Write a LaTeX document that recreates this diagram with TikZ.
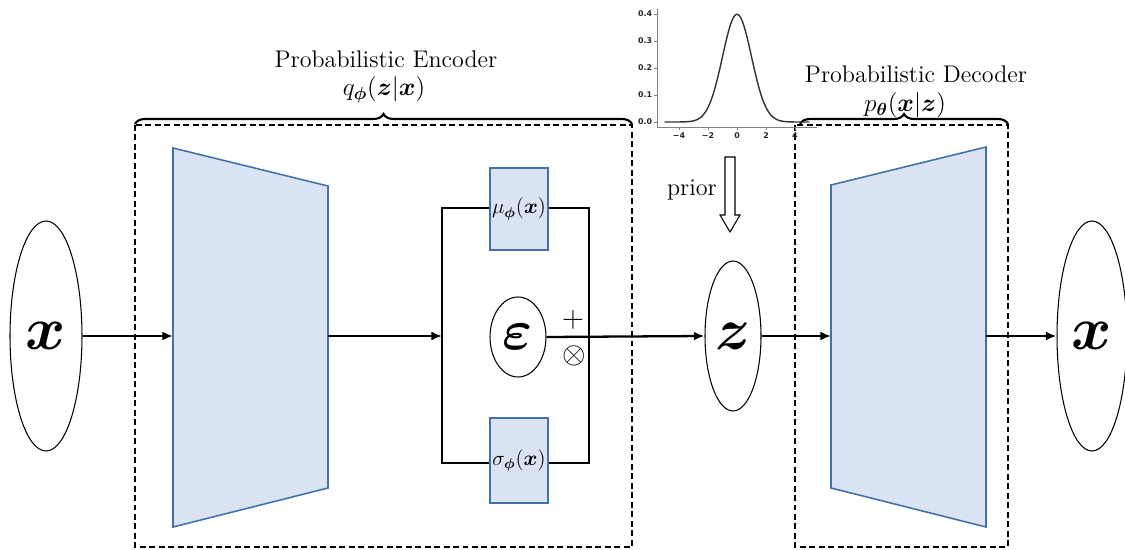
\documentclass[tikz,border=0pt]{standalone}
\usepackage{amsmath,amsbsy}
\usepackage{graphicx}
\usepackage{fontspec}
\newfontfamily\plotfont{DejaVu Sans}
\usepackage{tikz}
\usetikzlibrary{positioning, arrows.meta, shapes.geometric, decorations.pathreplacing}
\definecolor{blockfill}{RGB}{218,227,243}
\definecolor{blockedge}{RGB}{68,114,166}
\tikzset{
    block/.style={rectangle, draw=blockedge, fill=blockfill, line width=0.8pt, inner sep=0pt, font=\large},
    trap/.style={draw=blockedge, fill=blockfill, line width=0.9pt, line join=miter},
    latent/.style={ellipse, draw=black, line width=0.6pt, inner sep=0pt},
    flow-line/.style={-{Latex[length=6pt,width=5pt]}, line width=1.3pt},
    caption/.style={font=\fontsize{13.7}{16}\selectfont, inner sep=0pt}
}
\newcommand{\bigsym}[2][1.4]{\scalebox{#1}{\Huge$\boldsymbol{#2}$}}

\begin{document}
\begin{tikzpicture}[
		x=0.02cm, y=-0.02cm,
		% Khung nét đứt của encoder / decoder
		frame-box/.style={
			draw=black,
			line width=0.7pt,
			dash pattern=on 3.4pt off 2pt
		},
		% Dấu ngoặc nhọn phía trên khung
		brace-line/.style={
			decorate,
			decoration={brace, amplitude=0.2cm},
			line width=1.2pt
		},
		tick-label/.style={font=\plotfont\bfseries\fontsize{4.5}{5}\selectfont, inner sep=1pt, text=black!85}
		]
		\useasboundingbox (0,0) rectangle (1125,550);
		
		% Khung encoder và decoder
		\draw [frame-box] (135,125) rectangle (632,547);
		\draw [frame-box] (795,125) rectangle (1008,547);
		
		\draw [brace-line] (135,124) -- (632,124);
		\draw [brace-line] (800,124) -- (1008,124);
		
		\node (enc-title) [caption] at (386,59) {Probabilistic Encoder};
		\node (enc-dist) [caption] at (384,90) {$q_{\boldsymbol\phi}(\boldsymbol z|\boldsymbol x)$};
		\node (dec-title) [caption] at (916,74) {Probabilistic Decoder};
		\node (dec-dist) [caption] at (905,105) {$p_{\boldsymbol\theta}(\boldsymbol x|\boldsymbol z)$};
		
		% Phân phối prior N(0,1)
		\begin{scope}[shift={(737,122)}, x=0.29cm, y=5.4cm]
			\draw [gray, line width=0.5pt] (-5.5,0.42) -- (-5.5,-0.02) -- (5.5,-0.02);
			\foreach \t in {0.0,0.1,0.2,0.3,0.4}
				\draw [gray, line width=0.4pt] (-5.5,\t) -- ++(-0.06cm,0) node [left, tick-label] {\t};
			\foreach \t/\lab in {-4/−4,-2/−2,0/0,2/2,4/4}
				\draw [gray, line width=0.4pt] (\t,-0.02) -- ++(0,-0.06cm) node [below, tick-label] {\lab};
			\draw [black!80, line width=0.8pt, domain=-5:5, samples=120, smooth]
				plot (\x, {exp(-\x*\x/2)/sqrt(2*pi)});
		\end{scope}
		
		% Mũi tên rỗng "prior"
		\draw [line width=0.6pt, line join=miter] (725,157) -- (735,157) -- (735,215) -- (740,215)
			-- (730,232) -- (720,215) -- (725,215) -- cycle;
		\node (prior) [caption] at (692,190) {prior};
		
		% Các Node chính
		\node (x-in) [latent, minimum width=1.44cm, minimum height=4.6cm] at (46,336) {\bigsym{x}};
		\node (x-out) [latent, minimum width=1.4cm, minimum height=4.6cm] at (1092,336) {\bigsym{x}};
		\node (z) [latent, minimum width=1.12cm, minimum height=3cm] at (733,336) {\bigsym[1.35]{z}};
		\node (eps) [latent, minimum width=1.12cm, minimum height=1.6cm] at (518,337) {\bigsym[1.3]{\varepsilon}};
		
		\node (mu) [block, minimum width=1.16cm, minimum height=1.64cm] at (519,209) {$\mu_{\boldsymbol\phi}(\boldsymbol x)$};
		\node (sigma) [block, minimum width=1.16cm, minimum height=1.7cm] at (519,460.5) {$\sigma_{\boldsymbol\phi}(\boldsymbol x)$};
		
		\node (plus) [font=\LARGE, inner sep=0pt] at (573,320) {$+$};
		\node (times) [font=\LARGE, inner sep=0pt] at (574,356) {$\otimes$};
		
		% Mạng encoder / decoder (hình thang)
		\draw [trap] (173,148) -- (328,186) -- (328,488) -- (173,527) -- cycle;
		\draw [trap] (831,185) -- (986,147) -- (986,527) -- (831,488) -- cycle;
		\coordinate (enc-in) at (173,336);
		\coordinate (enc-out) at (328,336);
		\coordinate (dec-in) at (831,336);
		\coordinate (dec-out) at (986,336);
		
		% Nhánh mu / sigma
		\coordinate (loop-nw) at (442,208);
		\coordinate (loop-ne) at (589,208);
		\coordinate (loop-sw) at (442,463);
		\coordinate (loop-se) at (589,463);
		\coordinate (loop-in) at (442,336);
		\draw [line width=0.8pt] (mu.west |- loop-nw) -- (loop-nw) -- (loop-sw) -- (sigma.west |- loop-sw);
		\draw [line width=0.8pt] (mu.east |- loop-ne) -- (loop-ne) -- (loop-se) -- (sigma.east |- loop-se);
		
		% Các mũi tên
		\draw [flow-line] (x-in.east) -- (enc-in);
		\draw [flow-line] (enc-out) -- (loop-in);
		\draw [flow-line] (eps.east) -- (z.west);
		\draw [flow-line] (z.east) -- (dec-in);
		\draw [flow-line] (dec-out) -- (x-out.west);
		
	\end{tikzpicture}
\end{document}
